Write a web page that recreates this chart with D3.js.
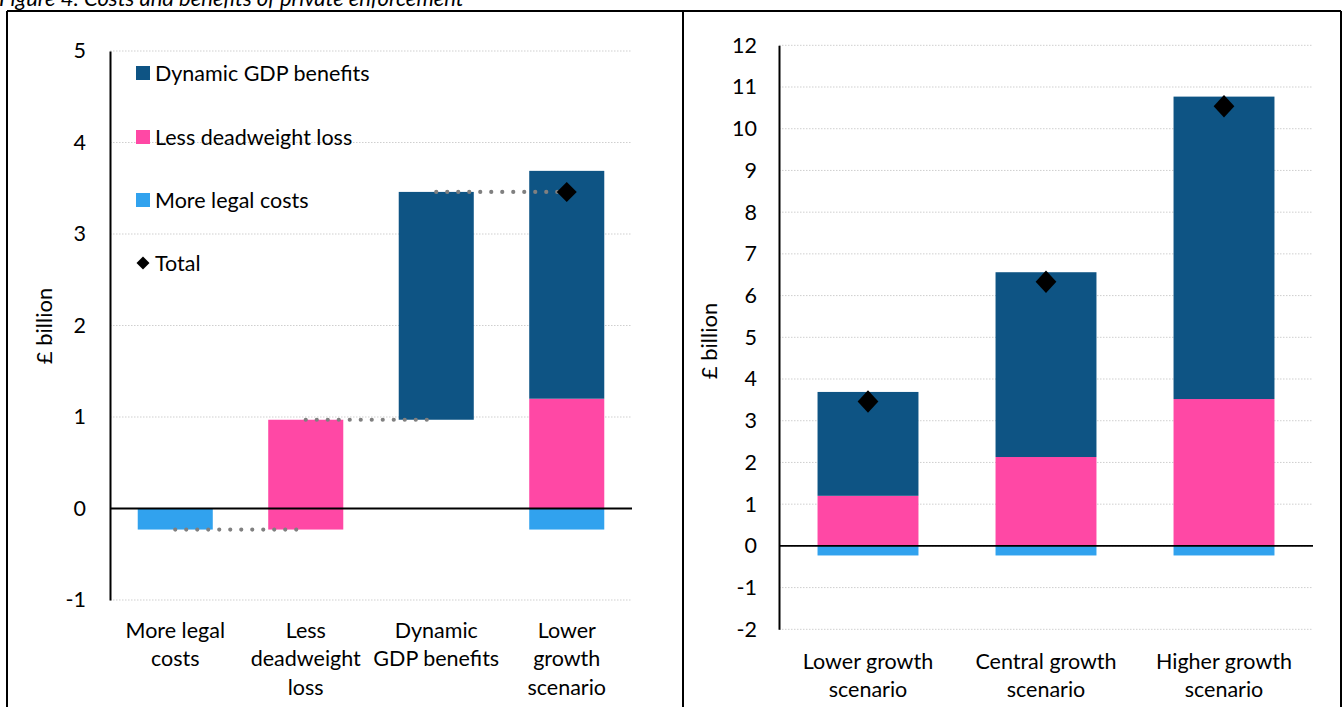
<!DOCTYPE html>
<html><head><meta charset="utf-8">
<script src="https://cdn.jsdelivr.net/npm/d3@7"></script>
<style>
body{margin:0;background:#fff;overflow:hidden}
svg{display:block}
text{font-family:Lato,"Noto Sans",sans-serif;fill:#000}
</style>
</head><body>
<svg id="chart" width="1343" height="707"></svg>
<script>
// ---------- data ----------
const titleText = "Figure 4: Costs and benefits of private enforcement";
const seriesNames = ["Dynamic GDP benefits", "Less deadweight loss", "More legal costs", "Total"];
const seriesColors = ["#0E5484", "#FF48A5", "#31A2EE", "#000000"];

const waterfallCategories = ["More legal costs", "Less deadweight loss", "Dynamic GDP benefits", "Lower growth scenario"];
const waterfallLabelLines = [["More legal", "costs"], ["Less", "deadweight", "loss"], ["Dynamic", "GDP benefits"], ["Lower", "growth", "scenario"]];
const waterfallSteps = [-0.23, 1.20, 2.49];

const scenarios = ["Lower growth scenario", "Central growth scenario", "Higher growth scenario"];
const scenarioLabelLines = [["Lower growth", "scenario"], ["Central growth", "scenario"], ["Higher growth", "scenario"]];
const legalCosts = [-0.23, -0.23, -0.23];
const deadweightLoss = [1.20, 2.13, 3.52];
const gdpBenefits = [2.49, 4.43, 7.25];
const totals = [3.46, 6.33, 10.54];

const leftTicks = [-1, 0, 1, 2, 3, 4, 5];
const rightTicks = [-2, -1, 0, 1, 2, 3, 4, 5, 6, 7, 8, 9, 10, 11, 12];
const yTitle = "£ billion";

// ---------- setup ----------
const svg = d3.select("#chart");
const FS = 21.5;
const colorOf = d3.scaleOrdinal().domain(seriesNames).range(seriesColors);
const tickFmt = d => String(d); // hyphen-minus as in source

// title (clipped at top as in source)
svg.append("text").attr("x", -1).attr("y", 6).attr("font-size", 22)
  .attr("font-style", "italic").text(titleText);

// panel borders
const border = svg.append("g").attr("stroke", "#000").attr("stroke-width", 2).attr("fill", "none");
border.append("line").attr("x1", 7).attr("x2", 1341).attr("y1", 11).attr("y2", 11);
border.append("line").attr("x1", 7).attr("x2", 7).attr("y1", 11).attr("y2", 707);
border.append("line").attr("x1", 683).attr("x2", 683).attr("y1", 11).attr("y2", 707);
border.append("line").attr("x1", 1341).attr("x2", 1341).attr("y1", 11).attr("y2", 707);

// stacking rows (diverging)
const stackKeys = ["More legal costs", "Less deadweight loss", "Dynamic GDP benefits"];
function rowsFor(i) {
  return {
    "More legal costs": legalCosts[i],
    "Less deadweight loss": deadweightLoss[i],
    "Dynamic GDP benefits": gdpBenefits[i]
  };
}
const stacker = d3.stack().keys(stackKeys).offset(d3.stackOffsetDiverging);

function drawFrame(g, x, y, ticks, labelGap) {
  const [x0, x1] = x.range();
  g.append("g").selectAll("line").data(ticks).join("line")
    .attr("x1", x0).attr("x2", x1)
    .attr("y1", d => y(d)).attr("y2", d => y(d))
    .attr("stroke", "#cfcfcf").attr("stroke-width", 1).attr("stroke-dasharray", "1.5 1.5");
  const ax = g.append("g").attr("transform", `translate(${x0},0)`)
    .call(d3.axisLeft(y).tickValues(ticks).tickSize(0).tickPadding(labelGap).tickFormat(tickFmt));
  ax.select(".domain").attr("stroke", "#000").attr("stroke-width", 2);
  ax.selectAll("text").attr("font-size", FS).attr("font-family", "Lato,'Noto Sans',sans-serif").attr("fill", "#000");
}

function drawZero(g, x, y) {
  const [x0, x1] = x.range();
  g.append("line").attr("x1", x0).attr("x2", x1).attr("y1", y(0)).attr("y2", y(0))
    .attr("stroke", "#000").attr("stroke-width", 1.8);
}

function drawXLabels(g, x, cats, lines, baseline, lh) {
  cats.forEach((c, i) => {
    const t = g.append("text").attr("text-anchor", "middle").attr("font-size", FS)
      .attr("x", x(c) + x.bandwidth() / 2).attr("y", baseline);
    lines[i].forEach((ln, j) => t.append("tspan").attr("x", x(c) + x.bandwidth() / 2).attr("y", baseline + j * lh).text(ln));
  });
}

function diamondPath(size) { return d3.symbol(d3.symbolSquare, size)(); }

// ---------- LEFT: waterfall ----------
{
  const g = svg.append("g");
  const x = d3.scaleBand().domain(waterfallCategories).range([110, 632]).paddingInner(0.425).paddingOuter(0.2125);
  const y = d3.scaleLinear().domain([-1, 5]).range([600, 51]);
  drawFrame(g, x, y, leftTicks, 24);

  const cum = d3.cumsum(waterfallSteps);
  const floating = waterfallSteps.map((v, i) => ({
    cat: waterfallCategories[i], series: stackKeys[i],
    lo: i === 0 ? 0 : cum[i - 1], hi: cum[i]
  }));
  g.append("g").selectAll("rect").data(floating).join("rect")
    .attr("x", d => x(d.cat)).attr("width", x.bandwidth())
    .attr("y", d => y(Math.max(d.lo, d.hi))).attr("height", d => Math.abs(y(d.lo) - y(d.hi)))
    .attr("fill", d => colorOf(d.series));

  const stacked = stacker([rowsFor(0)]);
  const lastCat = waterfallCategories[3];
  g.append("g").selectAll("rect").data(stacked).join("rect")
    .attr("x", x(lastCat)).attr("width", x.bandwidth())
    .attr("y", s => y(Math.max(s[0][0], s[0][1]))).attr("height", s => Math.abs(y(s[0][0]) - y(s[0][1])))
    .attr("fill", s => colorOf(s.key));

  drawZero(g, x, y);

  const cx = c => x(c) + x.bandwidth() / 2;
  g.append("g").selectAll("line").data(cum).join("line")
    .attr("x1", (d, i) => cx(waterfallCategories[i]))
    .attr("x2", (d, i) => cx(waterfallCategories[i + 1]) - 6)
    .attr("y1", d => y(d)).attr("y2", d => y(d))
    .attr("stroke", "#808080").attr("stroke-width", 4.2).attr("stroke-linecap", "round")
    .attr("stroke-dasharray", "0 11");

  g.append("path").attr("d", diamondPath(200))
    .attr("transform", `translate(${cx(lastCat)},${y(totals[0])}) rotate(45)`).attr("fill", "#000");

  const legendY = [73, 137, 200, 263];
  seriesNames.forEach((s, i) => {
    if (i < 3) {
      g.append("rect").attr("x", 136).attr("y", legendY[i] - 7).attr("width", 14).attr("height", 14).attr("fill", colorOf(s));
    } else {
      g.append("path").attr("d", diamondPath(84)).attr("transform", `translate(143,${legendY[i]}) rotate(45)`).attr("fill", "#000");
    }
    g.append("text").attr("x", 155).attr("y", legendY[i] + 7.5).attr("font-size", FS).text(s);
  });

  drawXLabels(g, x, waterfallCategories, waterfallLabelLines, 638, 28.3);

  g.append("text").attr("font-size", 22).attr("text-anchor", "middle")
    .attr("transform", "translate(52,326) rotate(-90)").text(yTitle);
}

// ---------- RIGHT: scenarios ----------
{
  const g = svg.append("g");
  const x = d3.scaleBand().domain(scenarios).range([779, 1313]).paddingInner(0.433).paddingOuter(0.2165);
  const y = d3.scaleLinear().domain([-2, 12]).range([629.3, 45.3]);
  drawFrame(g, x, y, rightTicks, 22);

  const rows = scenarios.map((s, i) => Object.assign({ scenario: s }, rowsFor(i)));
  const stacked = stacker(rows);
  g.append("g").selectAll("g").data(stacked).join("g").attr("fill", s => colorOf(s.key))
    .selectAll("rect").data(s => s).join("rect")
    .attr("x", d => x(d.data.scenario)).attr("width", x.bandwidth())
    .attr("y", d => y(Math.max(d[0], d[1]))).attr("height", d => Math.abs(y(d[0]) - y(d[1])));

  drawZero(g, x, y);

  g.append("g").selectAll("path").data(totals).join("path")
    .attr("d", diamondPath(215))
    .attr("transform", (d, i) => `translate(${x(scenarios[i]) + x.bandwidth() / 2},${y(d)}) scale(1,1.08) rotate(45)`)
    .attr("fill", "#000");

  drawXLabels(g, x, scenarios, scenarioLabelLines, 668.5, 28.3);

  g.append("text").attr("font-size", 22).attr("text-anchor", "middle")
    .attr("transform", "translate(717,341) rotate(-90)").text(yTitle);
}
</script>
</body></html>
